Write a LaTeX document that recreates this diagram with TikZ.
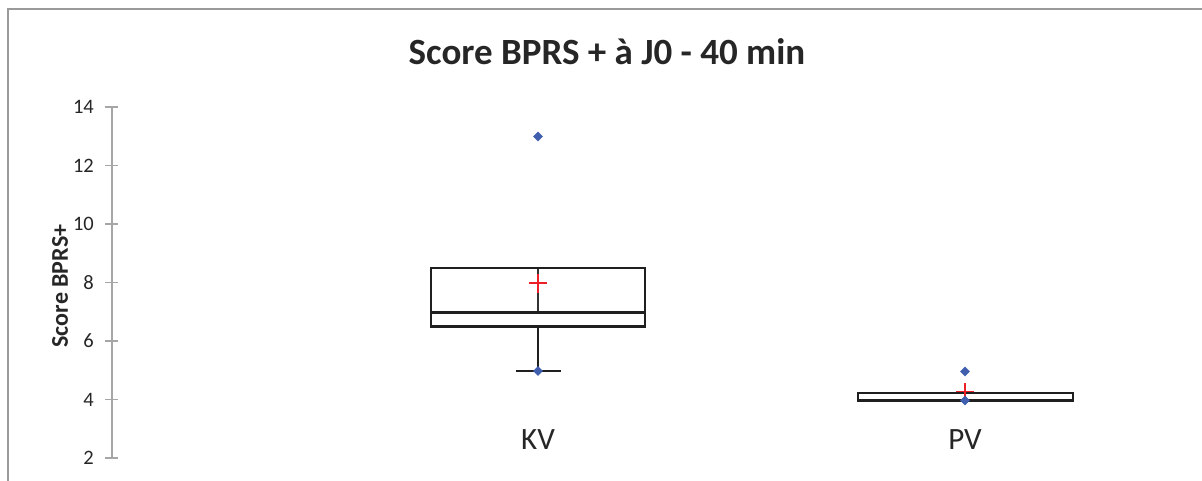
\documentclass[tikz,border=0pt]{standalone}
\usepackage{fontspec}
\setmainfont{Carlito}
\usetikzlibrary{shapes.geometric}
\definecolor{framegray}{HTML}{9A9A9A}
\definecolor{axisgray}{HTML}{A6A6A6}
\definecolor{ptblue}{HTML}{3F5EAE}
\definecolor{meanred}{HTML}{EE2027}
\definecolor{textdark}{HTML}{262626}
\tikzset{
  frameline/.style={draw=framegray, line width=1.5pt},
  axisline/.style={draw=axisgray, line width=1.5pt},
  ticklabel/.style={anchor=east, inner sep=0pt, font=\fontsize{20.5}{22}\selectfont, text=textdark},
  boxline/.style={draw=black!88, line width=2.6pt},
  medline/.style={draw=black!88, line width=3pt},
  innerline/.style={draw=black!80, line width=2pt},
  whisker/.style={draw=black!88, line width=2.6pt},
  datapt/.style={diamond, fill=ptblue, draw=none, minimum width=10pt, minimum height=10pt, inner sep=0pt},
  meanmark/.style={draw=meanred, line width=1.6pt},
  catlabel/.style={font=\fontsize{31}{34}\selectfont, text=textdark, inner sep=0pt},
}
\begin{document}
\begin{tikzpicture}[x=1pt,y=-1pt]
\useasboundingbox (0,0) rectangle (1202,481);
\fill[white] (0,0) rectangle (1202,481);
% outer frame
\coordinate (fbl) at (8,481);
\coordinate (ftl) at (8,9);
\coordinate (ftr) at (1202,9);
\draw[frameline] (fbl) -- (ftl) -- (ftr);
% title
\node[font=\bfseries\fontsize{37}{40}\selectfont, text=textdark] (title) at (607,52) {Score BPRS + à J0 - 40 min};
% y axis
\coordinate (atop) at (112,107);
\coordinate (abot) at (112,458.5);
\draw[axisline] (atop) -- (abot);
\foreach \v in {2,4,...,14} {
  \pgfmathsetmacro{\yy}{107+(14-\v)*29.25}
  \coordinate (tl\v) at (105,\yy);
  \coordinate (tr\v) at (118,\yy);
  \draw[axisline] (tl\v) -- (tr\v);
  \node[ticklabel] (lab\v) at (94,\yy) {\v};
}
\node[rotate=90, font=\bfseries\fontsize{24}{26}\selectfont, text=textdark] (ylab) at (60,286) {Score BPRS+};
% KV box
\coordinate (kq3l) at (431,268);
\coordinate (kq3r) at (645,268);
\coordinate (kq1l) at (431,326.5);
\coordinate (kq1r) at (645,326.5);
\coordinate (kmedl) at (431,312);
\coordinate (kmedr) at (645,312);
\coordinate (kctop) at (538,268);
\coordinate (kcmed) at (538,312);
\coordinate (kcbot) at (538,326.5);
\coordinate (kwend) at (538,371);
\coordinate (kcapl) at (516,371);
\coordinate (kcapr) at (561,371);
\draw[innerline] (kctop) -- (kcmed);
\draw[boxline] (kq3l) rectangle (kq1r);
\draw[medline] (kmedl) -- (kmedr);
\draw[whisker] (kcbot) -- (kwend);
\draw[whisker] (kcapl) -- (kcapr);
\node[datapt] (kout) at (538,136.5) {};
\node[datapt] (kmin) at (538,371) {};
\coordinate (kmean) at (538,283);
\draw[meanmark] ([xshift=-9pt]kmean) -- ([xshift=9pt]kmean);
\draw[meanmark] ([yshift=-9.5pt]kmean) -- ([yshift=9.5pt]kmean);
% PV box
\coordinate (pq3l) at (858,393);
\coordinate (pq1r) at (1073,400.5);
\draw[boxline] (pq3l) rectangle (pq1r);
\coordinate (pmean) at (965,391.5);
\draw[meanmark] ([xshift=-9pt]pmean) -- ([xshift=9pt]pmean);
\draw[meanmark] ([yshift=-9pt]pmean) -- ([yshift=9pt]pmean);
\node[datapt] (pout) at (965,371.5) {};
\node[datapt] (pmin) at (965,400.5) {};
% category labels
\node[catlabel] (kv) at (538,440) {KV};
\node[catlabel] (pv) at (965,440) {PV};
\end{tikzpicture}
\end{document}
